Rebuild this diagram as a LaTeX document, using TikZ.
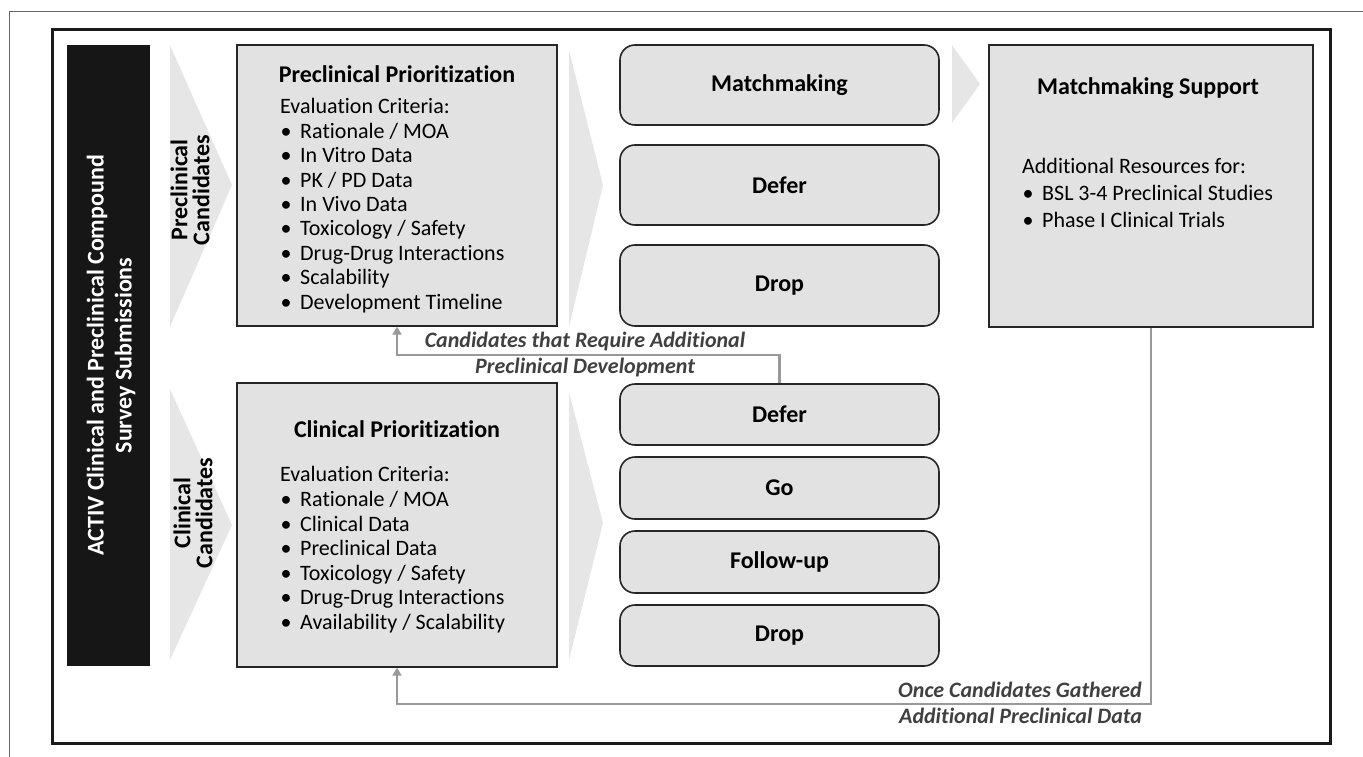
\documentclass[tikz,border=0pt]{standalone}
\usepackage{fontspec}
\setmainfont{Carlito}[Ligatures=NoCommon]
\usetikzlibrary{arrows.meta}
\definecolor{boxfill}{HTML}{E2E2E2}
\definecolor{chevfill}{HTML}{E6E6E6}
\definecolor{bardark}{HTML}{161616}
\definecolor{arrowgray}{HTML}{999999}
\definecolor{labelgray}{HTML}{404040}
\tikzset{
  sqbox/.style={draw=black!85, line width=1.3pt, fill=boxfill, minimum width=320pt, inner sep=0pt},
  rbox/.style={draw=black!85, line width=1.6pt, fill=boxfill, rounded corners=15pt, minimum width=319pt, inner sep=0pt, font=\fontsize{24}{26}\selectfont\bfseries},
  ttl/.style={font=\fontsize{24}{26}\selectfont\bfseries, inner sep=0pt},
  body/.style={font=\fontsize{22}{24.4}\selectfont, align=left, anchor=north west, inner sep=0pt},
  rottxt/.style={font=\fontsize{24}{22}\selectfont\bfseries, align=center, rotate=90, inner sep=0pt},
  flow/.style={draw=arrowgray, line width=2.6pt},
  flowarrow/.style={flow, -{Triangle[width=9pt,length=8pt]}},
  lbl/.style={font=\fontsize{22}{26}\selectfont\bfseries\itshape, text=labelgray, inner sep=0pt},
}
\newcommand{\itm}{\makebox[20pt][l]{\hspace{0.5pt}\textbullet}}
\begin{document}
\begin{tikzpicture}[x=1pt,y=-1pt]
\useasboundingbox (0,0) rectangle (1363,757);
% outer thin frame (cropped)
\draw[black!60, line width=1pt] (9,757) -- (9,12) -- (1363,12);
% inner thick frame
\draw[black!90, line width=3pt] (52,30) rectangle (1330,743);
% dark vertical bar
\node[fill=bardark, minimum width=83pt, minimum height=621pt, inner sep=0pt] (bar) at (108.5,355.5) {};
\node[rottxt, text=white, font=\fontsize{24}{28}\selectfont\bfseries] (bartxt) at (111,355.5) {ACTIV Clinical and Preclinical Compound\\Survey Submissions};
% chevrons
\fill[chevfill] (170,45) -- (232,185) -- (170,327) -- cycle;
\fill[chevfill] (170,389) -- (232,525) -- (170,660) -- cycle;
\fill[chevfill] (569,50) -- (603,185) -- (569,327) -- cycle;
\fill[chevfill] (569,392) -- (603,523) -- (569,660) -- cycle;
\fill[chevfill] (952,45) -- (980,84) -- (952,123) -- cycle;
\node[rottxt] (pcand) at (190,190) {Preclinical\\Candidates};
\node[rottxt] (ccand) at (193,513) {Clinical\\Candidates};
% prioritization boxes
\node[sqbox, minimum height=281pt] (pre) at (397,185.5) {};
\node[ttl] (pretitle) at (397,74) {Preclinical Prioritization};
\node[body] (prebody) at (280,98.5) {Evaluation Criteria:\\
\itm Rationale / MOA\\
\itm In Vitro Data\\
\itm PK / PD Data\\
\itm In Vivo Data\\
\itm Toxicology / Safety\\
\itm Drug-Drug Interactions\\
\itm Scalability\\
\itm Development Timeline};
\node[sqbox, minimum height=284pt] (clin) at (397,525) {};
\node[ttl] (clintitle) at (397,429) {Clinical Prioritization};
\node[body, font=\fontsize{22}{24.6}\selectfont] (clinbody) at (280,466.5) {Evaluation Criteria:\\
\itm Rationale / MOA\\
\itm Clinical Data\\
\itm Preclinical Data\\
\itm Toxicology / Safety\\
\itm Drug-Drug Interactions\\
\itm Availability / Scalability};
% outcome boxes
\node[rbox, minimum height=80pt] (mm) at (779.5,85) {Matchmaking};
\node[rbox, minimum height=80pt] (defer1) at (779.5,185) {Defer};
\node[rbox, minimum height=81pt] (drop1) at (779.5,285.5) {Drop};
\node[rbox, minimum height=61pt] (defer2) at (779.5,414.5) {Defer};
\node[rbox, minimum height=62pt] (go) at (779.5,488) {Go};
\node[rbox, minimum height=62pt] (follow) at (779.5,562) {Follow-up};
\node[rbox, minimum height=61pt] (drop2) at (779.5,635.5) {Drop};
% matchmaking support
\node[sqbox, minimum width=324pt, minimum height=282pt] (support) at (1151,186) {};
\node[ttl] (suptitle) at (1148,88) {Matchmaking Support};
\node[body, font=\fontsize{22}{27}\selectfont] (supbody) at (1022,158.5) {Additional Resources for:\\
\itm BSL 3-4 Preclinical Studies\\
\itm Phase I Clinical Trials};
% feedback arrows
\coordinate (c1) at (779.5,355);
\coordinate (c2) at (1151,704);
\draw[flowarrow] (defer2.north) -- (c1) -| (pre.south);
\draw[flowarrow] (support.south) -- (c2) -| (clin.south);
\node[lbl, align=center] (lbl1) at (585,355) {Candidates that Require Additional\\Preclinical Development};
\node[lbl, align=right, anchor=east] (lbl2) at (1142,702.5) {Once Candidates Gathered\\Additional Preclinical Data};
\end{tikzpicture}
\end{document}
